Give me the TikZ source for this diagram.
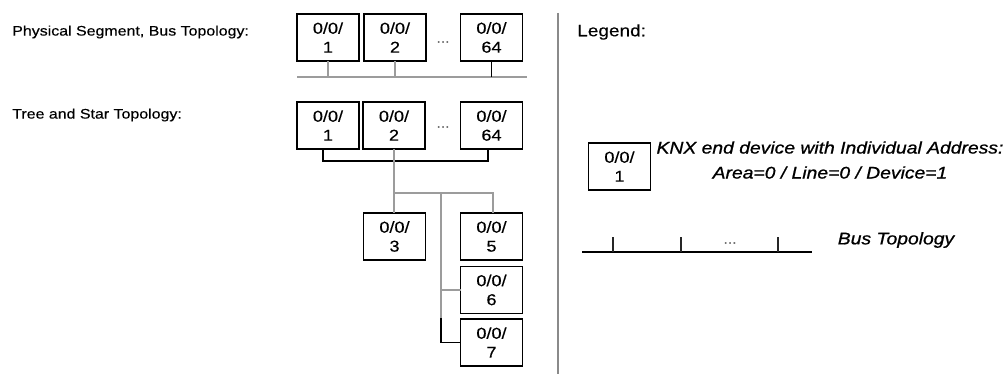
\documentclass[tikz,border=0pt]{standalone}
\usepackage{fontspec}
\setmainfont[FakeStretch=1.15,FakeBold=0.35]{Liberation Sans}
\newfontfamily\legfont[FakeStretch=1.15,FakeBold=0.9]{Liberation Sans}
\definecolor{lgray}{HTML}{9C9C9C}
\definecolor{sepgray}{HTML}{8A8A8A}
\begin{document}
\begin{tikzpicture}[x=0.75pt,y=-0.75pt,
  dev/.style={draw=black, line width=1.3pt, minimum width=46.5pt, minimum height=35.25pt,
    inner sep=0pt, outer sep=0pt, align=center, font=\fontsize{11.8}{14.25}\selectfont},
  grayline/.style={draw=lgray, line width=1.5pt},
  blackline/.style={draw=black, line width=1.1pt},
  sepline/.style={draw=sepgray, line width=1.8pt},
  lbl/.style={anchor=west, inner sep=0pt, font=\fontsize{10.4}{12}\selectfont},
  dotsnode/.style={inner sep=0pt, text=darkgray, font=\fontsize{10}{11}\selectfont},
  legtext/.style={inner sep=0pt, align=center, font=\legfont\fontsize{12.6}{18.75}\selectfont\itshape},
  tick/.style={draw=black!85, line width=0.8pt}]
\useasboundingbox (0,0) rectangle (1005,374);

% left labels
\node[lbl] (l1) at (12,32) {Physical Segment, Bus Topology:};
\node[lbl] (l2) at (12,115) {Tree and Star Topology:};

% bus topology row
\node[dev] (b1) at (328,37.5) {0/0/\\1};
\node[dev] (b2) at (395,37.5) {0/0/\\2};
\node[dev] (b64) at (491.5,37.5) {0/0/\\64};
\node[dotsnode] (bd) at (443,42) {...};
\coordinate (busL) at (297,77);
\coordinate (busR) at (527,77);
\draw[grayline] (busL) -- (busR);
\draw[grayline] (b1.south) -- (b1.south |- busL);
\draw[grayline] (b2.south) -- (b2.south |- busL);
\draw[blackline] (b64.south) -- (b64.south |- busL);

% tree row
\node[dev] (t1) at (328,125.5) {0/0/\\1};
\node[dev] (t2) at (394,125.5) {0/0/\\2};
\node[dev] (t64) at (491.5,125.5) {0/0/\\64};
\node[dotsnode] (td) at (443,127) {...};
\coordinate (cl) at (323,161);
\coordinate (cr) at (488,161);
\draw[blackline] (t1.south -| cl) -- (cl) -- (cr) -- (t64.south -| cr);

\node[dev] (t3) at (394.5,236.5) {0/0/\\3};
\node[dev] (t5) at (491.5,236.5) {0/0/\\5};
\node[dev] (t6) at (491.5,290) {0/0/\\6};
\node[dev] (t7) at (491.5,342.5) {0/0/\\7};
\coordinate (j) at (394,193);
\coordinate (jm) at (441,193);
\coordinate (jr) at (493,193);
\coordinate (jk) at (441,318);
\draw[grayline] (t2.south) -- (t2.south |- t3.north);
\draw[grayline] (j) -- (jr) -- (jr |- t5.north);
\draw[grayline] (jm) -- (jk);
\draw[grayline] (jm |- t6.west) -- (t6.west);
\draw[blackline] (jk) -- (jm |- t7.west) -- (t7.west);

% separator
\coordinate (s1) at (558,13);
\coordinate (s2) at (558,374);
\draw[sepline] (s1) -- (s2);

% legend
\node[anchor=west, inner sep=0pt, font=\fontsize{12.4}{14}\selectfont] (leg) at (577,32) {Legend:};
\node[dev] (lb) at (619.5,166.5) {0/0/\\1};
\node[legtext] (lt) at (830,160) {KNX end device with Individual Address:\\Area=0 / Line=0 / Device=1};

\coordinate (lbusL) at (582,252);
\coordinate (lbusR) at (812,252);
\draw[blackline] (lbusL) -- (lbusR);
\coordinate (k1) at (613,237);
\coordinate (k2) at (681,237);
\coordinate (k3) at (778,237);
\draw[tick] (k1) -- (k1 |- lbusL);
\draw[tick] (k2) -- (k2 |- lbusL);
\draw[tick] (k3) -- (k3 |- lbusL);
\node[dotsnode] (ld) at (730,243) {...};
\node[legtext] (bt) at (896,240) {Bus Topology};
\end{tikzpicture}
\end{document}
